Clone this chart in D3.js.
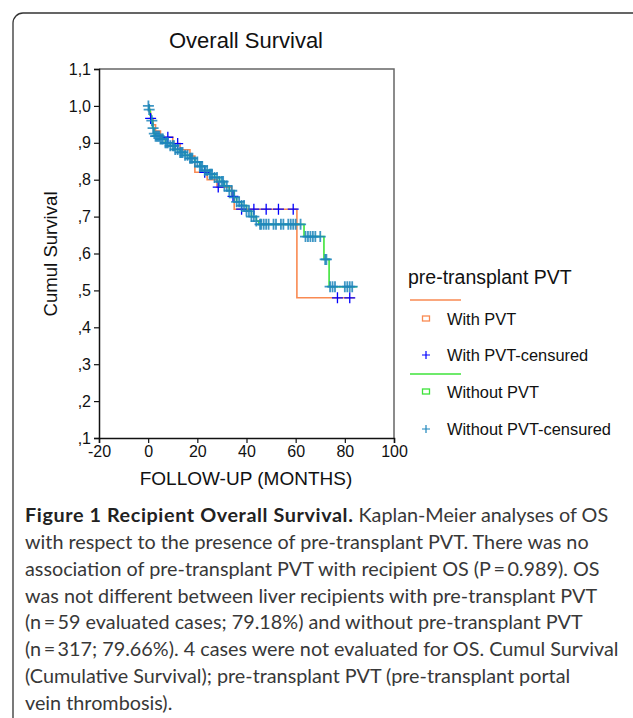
<!DOCTYPE html>
<html>
<head>
<meta charset="utf-8">
<script src="https://cdn.jsdelivr.net/npm/d3@7"></script>
<style>
  body { margin: 0; background: #fff; }
  svg { display: block; }
</style>
</head>
<body>
<div id="body"></div>
<script>
// With PVT curve (time in months, cumulative survival after the step)
var pvtTimes = [0, 0.5, 1, 2, 3, 5, 10, 13, 17, 19, 24, 28, 34, 35, 60.5, 84];
var pvtSurv = [1.0, 0.983, 0.966, 0.949, 0.932, 0.915, 0.898, 0.881, 0.864, 0.82, 0.80, 0.78, 0.755, 0.72, 0.48, 0.48];
var pvtCensored = [1, 8, 12, 23, 28.5, 34.5, 38, 43, 48, 53, 59, 77, 82];

// Without PVT curve
var noPvtTimes = [0, 0.3, 0.8, 1.2, 1.8, 2.3, 3, 5, 7, 9, 11, 13, 15, 17, 19, 21, 23, 25, 27, 29, 31, 33, 35, 36, 38, 40, 42, 44, 45, 63.4, 71.5, 73.6, 85];
var noPvtSurv = [1.0, 0.99, 0.975, 0.96, 0.94, 0.925, 0.918, 0.91, 0.9, 0.892, 0.882, 0.874, 0.866, 0.858, 0.848, 0.836, 0.825, 0.815, 0.806, 0.795, 0.783, 0.77, 0.752, 0.74, 0.73, 0.715, 0.70, 0.688, 0.679, 0.646, 0.584, 0.51, 0.51];
var noPvtCensored = [0.1, 0.4, 1.5, 2, 2.5, 3, 3.5, 4, 4.5, 5, 5.5, 6, 7, 7.5, 8, 9, 10, 10.5, 11, 12, 13, 13.5, 14, 15, 16, 17, 17.5, 18, 19, 20, 21, 21.5, 22, 23, 24, 25, 25.5, 26, 27, 28, 29, 30, 30.5, 31, 32, 33, 34, 35, 36, 37, 38, 39, 40, 41, 42, 43, 44,
  45.5, 46, 47, 48, 49, 51, 52, 54, 55, 57, 58, 59, 60, 62, 64, 65, 66, 67, 68, 70, 72, 72.5, 74, 75, 76, 80, 81, 82, 83];

var xTicks = [-20, 0, 20, 40, 60, 80, 100];
var yTicks = [0.1, 0.2, 0.3, 0.4, 0.5, 0.6, 0.7, 0.8, 0.9, 1.0, 1.1];
var yTickLabels = [",1", ",2", ",3", ",4", ",5", ",6", ",7", ",8", ",9", "1,0", "1,1"];

var captionLines = [
  "with respect to the presence of pre-transplant PVT. There was no",
  "association of pre-transplant PVT with recipient OS (P\u2009=\u20090.989). OS",
  "was not different between liver recipients with pre-transplant PVT",
  "(n\u2009=\u200959 evaluated cases; 79.18%) and without pre-transplant PVT",
  "(n\u2009=\u2009317; 79.66%). 4 cases were not evaluated for OS. Cumul Survival",
  "(Cumulative Survival); pre-transplant PVT (pre-transplant portal",
  "vein thrombosis)."
];

var width = 633, height = 718;
var plotLeft = 99, plotRight = 394, plotTop = 69, plotBottom = 438;

var svg = d3.select("#body")
  .append("svg")
  .attr("width", width)
  .attr("height", height);

// outer box
svg.append("rect")
  .attr("x", 13).attr("y", 13)
  .attr("width", 660).attr("height", 740)
  .attr("rx", 10)
  .attr("fill", "none")
  .attr("stroke", "#333")
  .attr("stroke-width", 1.3);

var x = d3.scaleLinear().domain([-20, 100]).range([plotLeft, plotRight]);
var y = d3.scaleLinear().domain([0.1, 1.1]).range([plotBottom, plotTop]);

var chartFont = "'Liberation Sans', Arial, sans-serif";

// frame top / right
svg.append("path")
  .attr("d", "M" + plotLeft + "," + plotTop + "H" + plotRight + "V" + plotBottom)
  .attr("fill", "none")
  .attr("stroke", "#666")
  .attr("stroke-width", 1.5);

var xAxis = svg.append("g")
  .attr("transform", "translate(0," + plotBottom + ")")
  .call(d3.axisBottom(x).tickValues(xTicks).tickSize(5).tickPadding(3)
    .tickFormat(function(d) { return String(d); }));

var yAxis = svg.append("g")
  .attr("transform", "translate(" + plotLeft + ",0)")
  .call(d3.axisLeft(y).tickValues(yTicks).tickSize(5).tickPadding(3)
    .tickFormat(function(d, i) { return yTickLabels[i]; }));

[xAxis, yAxis].forEach(function(a) {
  a.select(".domain").attr("stroke", "#111").attr("stroke-width", 1.5);
  a.selectAll(".tick line").attr("stroke", "#111").attr("stroke-width", 1.2);
  a.selectAll("text").attr("font-family", chartFont).attr("font-size", 16).attr("fill", "#111");
});

function stepData(times, surv) {
  return times.map(function(t, i) { return [t, surv[i]]; });
}

function survAt(times, surv, t) {
  var i = d3.bisectRight(times, t) - 1;
  return surv[Math.max(0, i)];
}

var line = d3.line()
  .x(function(d) { return x(d[0]); })
  .y(function(d) { return y(d[1]); })
  .curve(d3.curveStepAfter);

var orange = "#f98a52", green = "#3ee33a", blue = "#0000ff", teal = "#1e86bc";

svg.append("path")
  .datum(stepData(pvtTimes, pvtSurv))
  .attr("fill", "none")
  .attr("stroke", orange)
  .attr("stroke-width", 1.6)
  .attr("d", line);

svg.append("path")
  .datum(stepData(noPvtTimes, noPvtSurv))
  .attr("fill", "none")
  .attr("stroke", green)
  .attr("stroke-width", 1.6)
  .attr("d", line);

function plus(size) {
  return "M" + (-size) + ",0H" + size + "M0," + (-size) + "V" + size;
}

svg.append("g")
  .selectAll("path")
  .data(pvtCensored)
  .enter()
  .append("path")
  .attr("transform", function(d) { return "translate(" + x(d) + "," + y(survAt(pvtTimes, pvtSurv, d)) + ")"; })
  .attr("d", plus(5.5))
  .attr("stroke", blue)
  .attr("stroke-width", 1.3);

svg.append("g")
  .selectAll("path")
  .data(noPvtCensored)
  .enter()
  .append("path")
  .attr("transform", function(d) { return "translate(" + x(d) + "," + y(survAt(noPvtTimes, noPvtSurv, d)) + ")"; })
  .attr("d", plus(5.5))
  .attr("stroke", teal)
  .attr("stroke-width", 1.8)
  .attr("opacity", 0.85);

// titles
svg.append("text")
  .attr("x", 246).attr("y", 48)
  .attr("text-anchor", "middle")
  .attr("font-family", chartFont).attr("font-size", 22)
  .attr("fill", "#111")
  .text("Overall Survival");

svg.append("text")
  .attr("transform", "translate(57,254) rotate(-90)")
  .attr("text-anchor", "middle")
  .attr("font-family", chartFont).attr("font-size", 18.6)
  .attr("fill", "#111")
  .text("Cumul Survival");

svg.append("text")
  .attr("x", 246).attr("y", 485)
  .attr("text-anchor", "middle")
  .attr("font-family", chartFont).attr("font-size", 19)
  .attr("fill", "#111")
  .text("FOLLOW-UP (MONTHS)");

// legend
var legend = svg.append("g").attr("font-family", chartFont).attr("fill", "#111");

legend.append("text")
  .attr("x", 408).attr("y", 284)
  .attr("font-size", 19.5)
  .text("pre-transplant PVT");

var legendItems = [
  { label: "With PVT", type: "square", color: orange, y: 319 },
  { label: "With PVT-censured", type: "plus", color: blue, y: 355 },
  { label: "Without PVT", type: "square", color: green, y: 392 },
  { label: "Without PVT-censured", type: "plus", color: teal, y: 429 }
];

legend.append("line").attr("x1", 410).attr("x2", 461).attr("y1", 300).attr("y2", 300)
  .attr("stroke", orange).attr("stroke-width", 1.3);
legend.append("line").attr("x1", 410).attr("x2", 461).attr("y1", 374).attr("y2", 374)
  .attr("stroke", green).attr("stroke-width", 1.3);

var li = legend.selectAll("g.item")
  .data(legendItems)
  .enter()
  .append("g")
  .attr("class", "item")
  .attr("transform", function(d) { return "translate(426," + d.y + ")"; });

li.filter(function(d) { return d.type == "square"; })
  .append("rect")
  .attr("x", -3.5).attr("y", -3).attr("width", 7).attr("height", 5)
  .attr("fill", "none")
  .attr("stroke", function(d) { return d.color; })
  .attr("stroke-width", 1.3);

li.filter(function(d) { return d.type == "plus"; })
  .append("path")
  .attr("d", plus(4))
  .attr("stroke", function(d) { return d.color; })
  .attr("stroke-width", 1.2);

li.append("text")
  .attr("x", 21).attr("y", 6)
  .attr("font-size", 16.4)
  .text(function(d) { return d.label; });

// caption
var capFont = "Lato, 'Open Sans', sans-serif";
var cap = svg.append("g").attr("font-family", capFont).attr("font-size", 19.8).attr("fill", "#383838");

var first = cap.append("text").attr("x", 25).attr("y", 522);
first.append("tspan").attr("font-weight", "bold").attr("fill", "#222").attr("letter-spacing", 0.6)
  .text("Figure 1 Recipient Overall Survival.");
first.append("tspan").text(" Kaplan-Meier analyses of OS");

cap.selectAll("text.line")
  .data(captionLines)
  .enter()
  .append("text")
  .attr("class", "line")
  .attr("x", 25)
  .attr("y", function(d, i) { return 549 + i * 26.8; })
  .text(function(d) { return d; });
</script>
</body>
</html>
